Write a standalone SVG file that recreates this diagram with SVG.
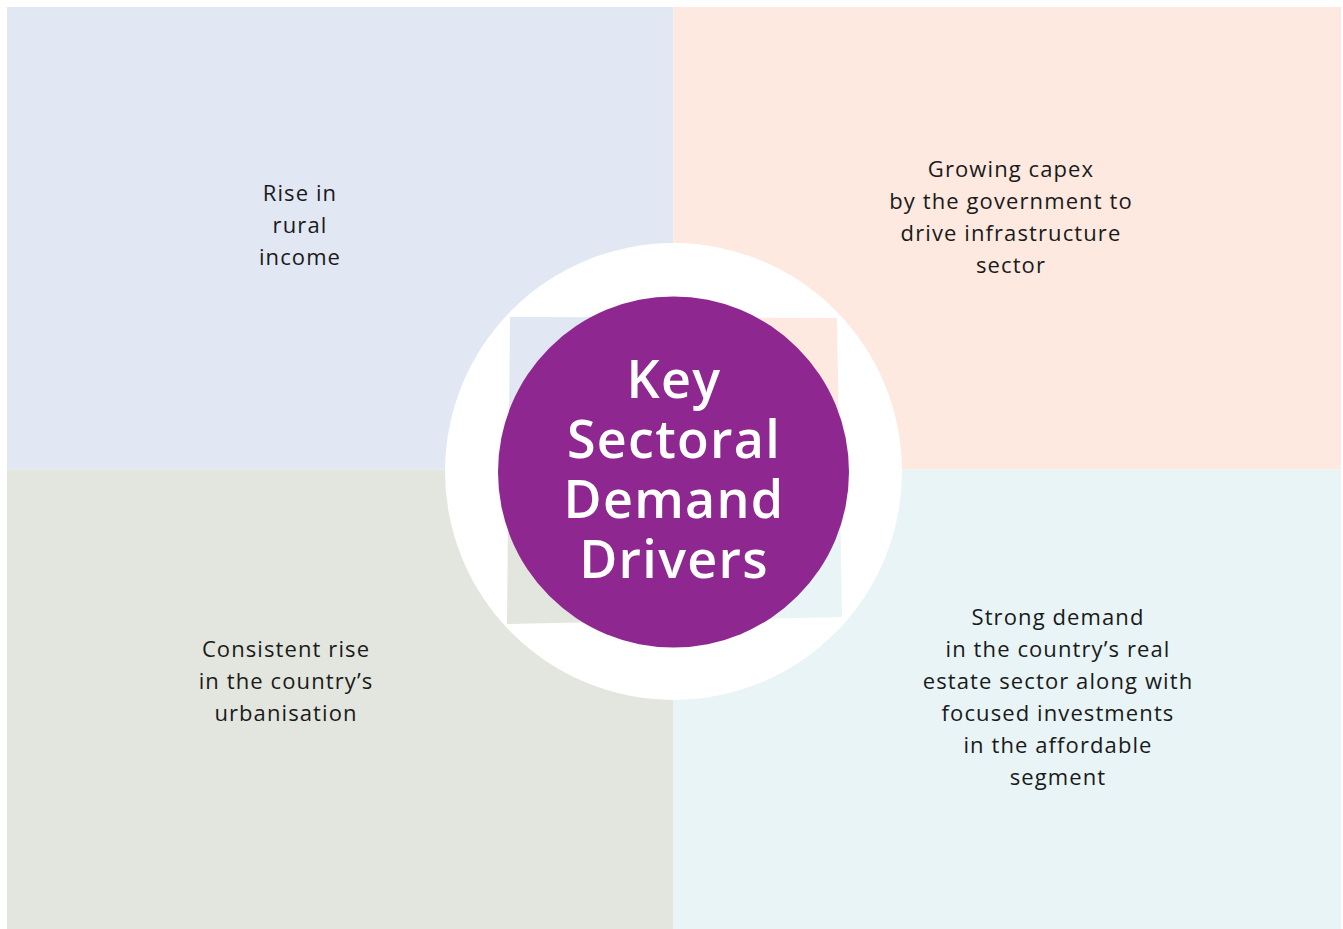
<svg xmlns="http://www.w3.org/2000/svg" width="1343" height="929" viewBox="0 0 1343 929">
  <style>
    .q-tl { fill: #E1E7F3; }
    .q-tr { fill: #FDE9DF; }
    .q-bl { fill: #E3E6DE; }
    .q-br { fill: #E8F4F6; }
    .label { font-family: "Open Sans", "Liberation Sans", sans-serif; font-size: 22px; letter-spacing: 1.1px; fill: #1a1a1a; text-anchor: middle; }
    .title { font-family: "Open Sans", "Liberation Sans", sans-serif; font-size: 52px; font-weight: 600; letter-spacing: 1.3px; fill: #ffffff; text-anchor: middle; }
  </style>
  <defs>
    <clipPath id="c-tl"><rect x="0" y="0" width="673.5" height="469.5"/></clipPath>
    <clipPath id="c-tr"><rect x="673.5" y="0" width="700" height="469.5"/></clipPath>
    <clipPath id="c-bl"><rect x="0" y="469.5" width="673.5" height="500"/></clipPath>
    <clipPath id="c-br"><rect x="673.5" y="469.5" width="700" height="500"/></clipPath>
    <polygon id="sq" points="510,317 837,318 842,617 507,624"/>
  </defs>
  <rect width="1343" height="929" fill="#ffffff"/>

  <g id="quadrant-tl">
    <rect class="q-tl" x="7" y="7" width="666.5" height="462.5"/>
    <text class="label"><tspan x="300" y="201">Rise in</tspan><tspan x="300" y="233">rural</tspan><tspan x="300" y="265">income</tspan></text>
  </g>
  <g id="quadrant-tr">
    <rect class="q-tr" x="673.5" y="7" width="667.5" height="462.5"/>
    <text class="label"><tspan x="1011" y="177">Growing capex</tspan><tspan x="1011" y="209">by the government to</tspan><tspan x="1011" y="241">drive infrastructure</tspan><tspan x="1011" y="273">sector</tspan></text>
  </g>
  <g id="quadrant-bl">
    <rect class="q-bl" x="7" y="469.5" width="666.5" height="459.5"/>
    <text class="label"><tspan x="286" y="657">Consistent rise</tspan><tspan x="286" y="689">in the country’s</tspan><tspan x="286" y="721">urbanisation</tspan></text>
  </g>
  <g id="quadrant-br">
    <rect class="q-br" x="673.5" y="469.5" width="667.5" height="459.5"/>
    <text class="label"><tspan x="1058" y="625">Strong demand</tspan><tspan x="1058" y="657">in the country’s real</tspan><tspan x="1058" y="689">estate sector along with</tspan><tspan x="1058" y="721">focused investments</tspan><tspan x="1058" y="753">in the affordable</tspan><tspan x="1058" y="785">segment</tspan></text>
  </g>

  <g id="center">
    <circle cx="673.5" cy="471.5" r="228.5" fill="#ffffff"/>
    <use href="#sq" class="q-tl" clip-path="url(#c-tl)"/>
    <use href="#sq" class="q-tr" clip-path="url(#c-tr)"/>
    <use href="#sq" class="q-bl" clip-path="url(#c-bl)"/>
    <use href="#sq" class="q-br" clip-path="url(#c-br)"/>
    <circle cx="673.5" cy="472" r="175.5" fill="#8E278F"/>
    <text class="title"><tspan x="674" y="398">Key</tspan><tspan x="674" y="458">Sectoral</tspan><tspan x="674" y="518">Demand</tspan><tspan x="674" y="578">Drivers</tspan></text>
  </g>
  <g id="connectors"/>
</svg>
